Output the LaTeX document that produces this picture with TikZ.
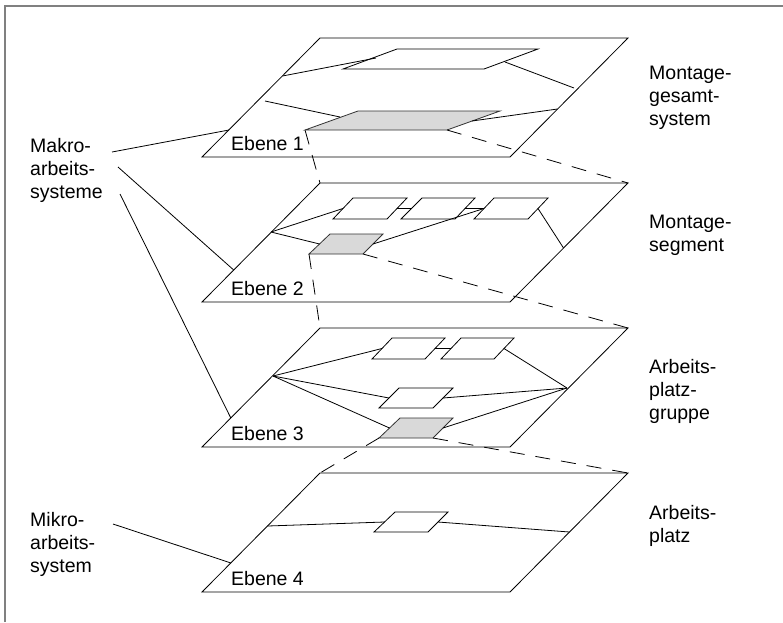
\documentclass[tikz,border=0pt]{standalone}
\usepackage{fontspec}
\setmainfont{Liberation Sans}
\usetikzlibrary{calc}

% one parallelogram: name, style, bottom-left, top-left, top-right, bottom-right
\newcommand\mktile[6]{%
  \coordinate (#1-bl) at (#3);
  \coordinate (#1-tl) at (#4);
  \coordinate (#1-tr) at (#5);
  \coordinate (#1-br) at (#6);
  \coordinate (#1-w) at ($(#1-bl)!.5!(#1-tl)$);
  \coordinate (#1-e) at ($(#1-br)!.5!(#1-tr)$);
  \path[#2] (#1-bl) -- (#1-tl) -- (#1-tr) -- (#1-br) -- cycle;}

\tikzset{
  plane/.style={draw=black, line width=0.8pt, fill=white, line join=miter},
  cell/.style={draw=black, line width=0.8pt, fill=white},
  focus/.style={draw=black!80, line width=0.8pt, fill=black!15},
  link/.style={draw=black, line width=0.8pt},
  zoomline/.style={draw=black, line width=0.8pt, dash pattern=on 15pt off 11pt},
  frameline/.style={draw=black!50, line width=1.5pt},
  caption/.style={font=\fontsize{19.5}{23}\selectfont, align=left, anchor=north west, inner sep=0pt},
  level/.style={font=\fontsize{19.5}{23}\selectfont, anchor=base west, inner sep=0pt}
}

\begin{document}
\begin{tikzpicture}[x=1pt, y=-1pt]
\useasboundingbox (0,0) rectangle (783,622);

% outer frame (top and left edges)
\coordinate (fr-bl) at (5,622);
\coordinate (fr-tl) at (5,6);
\coordinate (fr-tr) at (783,6);
\draw[frameline] (fr-bl) -- (fr-tl) -- (fr-tr);

% ---------- Ebene 1 ----------
\mktile{p1}{plane}{202,157}{320,38}{628,38}{510,157}
\mktile{r1}{cell}{343,69}{397,49}{538,49}{484,69}
\mktile{g1}{focus}{305,130}{358,111}{500,111}{447,130}
\coordinate (p1-j1) at (282.5,76);
\coordinate (r1-j) at (376,58);
\coordinate (r1-k) at (505,62);
\coordinate (p1-j2) at (574,88);
\coordinate (p1-j3) at (265,101);
\coordinate (g1-j) at (340,117);
\coordinate (g1-k) at (472,121);
\coordinate (p1-j4) at (557.5,109);
\draw[link] (p1-j1) -- (r1-j);
\draw[link] (r1-k) -- (p1-j2);
\draw[link] (p1-j3) -- (g1-j);
\draw[link] (g1-k) -- (p1-j4);
\node[level] (e1) at (231,150) {Ebene 1};

% ---------- Ebene 2 ----------
\mktile{p2}{plane}{202,302}{320,183}{628,183}{510,302}
\mktile{a2}{cell}{333,219}{353,198}{407,198}{387,219}
\mktile{b2}{cell}{401,219}{422,198}{475,198}{455,219}
\mktile{c2}{cell}{474,219}{494,198}{548,198}{528,219}
\mktile{g2}{focus}{309,254}{330,234}{383,234}{363,254}
\coordinate (p2-j1) at (271,232);
\coordinate (p2-j2) at (563.5,248);
\draw[link] (a2-e) -- (b2-w);
\draw[link] (b2-e) -- (c2-w);
\draw[link] (p2-j1) -- (a2-w);
\draw[link] (p2-j1) -- (g2-w);
\draw[link] (g2-e) -- (c2-w);
\draw[link] (c2-e) -- (p2-j2);
\node[level] (e2) at (231,295) {Ebene 2};

% ---------- Ebene 3 ----------
\mktile{p3}{plane}{202,447}{320,328}{628,328}{510,447}
\mktile{d3}{cell}{372,359}{392,338}{445,338}{425,359}
\mktile{e3}{cell}{441,359}{461,338}{514,338}{494,359}
\mktile{f3}{cell}{379,408}{399,388}{453,388}{433,408}
\mktile{g3}{focus}{379,438}{400,418}{453,418}{433,438}
\coordinate (p3-j1) at (273,376);
\coordinate (p3-j2) at (567,388);
\draw[link] (d3-e) -- (e3-w);
\draw[link] (p3-j1) -- (d3-w);
\draw[link] (p3-j1) -- (f3-w);
\draw[link] (p3-j1) -- (g3-w);
\draw[link] (e3-e) -- (p3-j2);
\draw[link] (f3-e) -- (p3-j2);
\draw[link] (g3-e) -- (p3-j2);
\node[level] (e3l) at (231,440) {Ebene 3};

% ---------- Ebene 4 ----------
\mktile{p4}{plane}{202,592}{320,473}{628,473}{510,592}
\mktile{h4}{cell}{374,532}{395,512}{448,512}{428,532}
\coordinate (p4-j1) at (267.5,526);
\coordinate (p4-j2) at (569.5,532);
\draw[link] (p4-j1) -- (h4-w);
\draw[link] (h4-e) -- (p4-j2);
\node[level] (e4) at (231,585) {Ebene 4};

% ---------- projection of the focused element onto the next level ----------
\draw[zoomline] (g1-bl) -- (p2-tl);
\draw[zoomline] (g1-br) -- (p2-tr);
\draw[zoomline] (g2-bl) -- (p3-tl);
\draw[zoomline] (g2-br) -- (p3-tr);
\draw[zoomline] (g3-bl) -- (p4-tl);
\draw[zoomline] (g3-br) -- (p4-tr);

% ---------- captions ----------
\node[caption] (makro) at (30,138) {Makro-\\arbeits-\\systeme};
\node[caption] (mikro) at (30,512) {Mikro-\\arbeits-\\system};
\node[caption] (mgs) at (649,66) {Montage-\\gesamt-\\system};
\node[caption] (mseg) at (649,215) {Montage-\\segment};
\node[caption] (apg) at (649,359) {Arbeits-\\platz-\\gruppe};
\node[caption] (ap) at (649,505) {Arbeits-\\platz};

\coordinate (mk-1) at (112,152);
\coordinate (mk-2) at (118,167);
\coordinate (mk-3) at (120,194);
\coordinate (mi-1) at (113,524);
\coordinate (p1-m) at (229,130);
\coordinate (p2-m) at (233.7,270);
\coordinate (p3-m) at (230.8,418);
\coordinate (p4-m) at (231,563);
\draw[link] (mk-1) -- (p1-m);
\draw[link] (mk-2) -- (p2-m);
\draw[link] (mk-3) -- (p3-m);
\draw[link] (mi-1) -- (p4-m);
\end{tikzpicture}
\end{document}
